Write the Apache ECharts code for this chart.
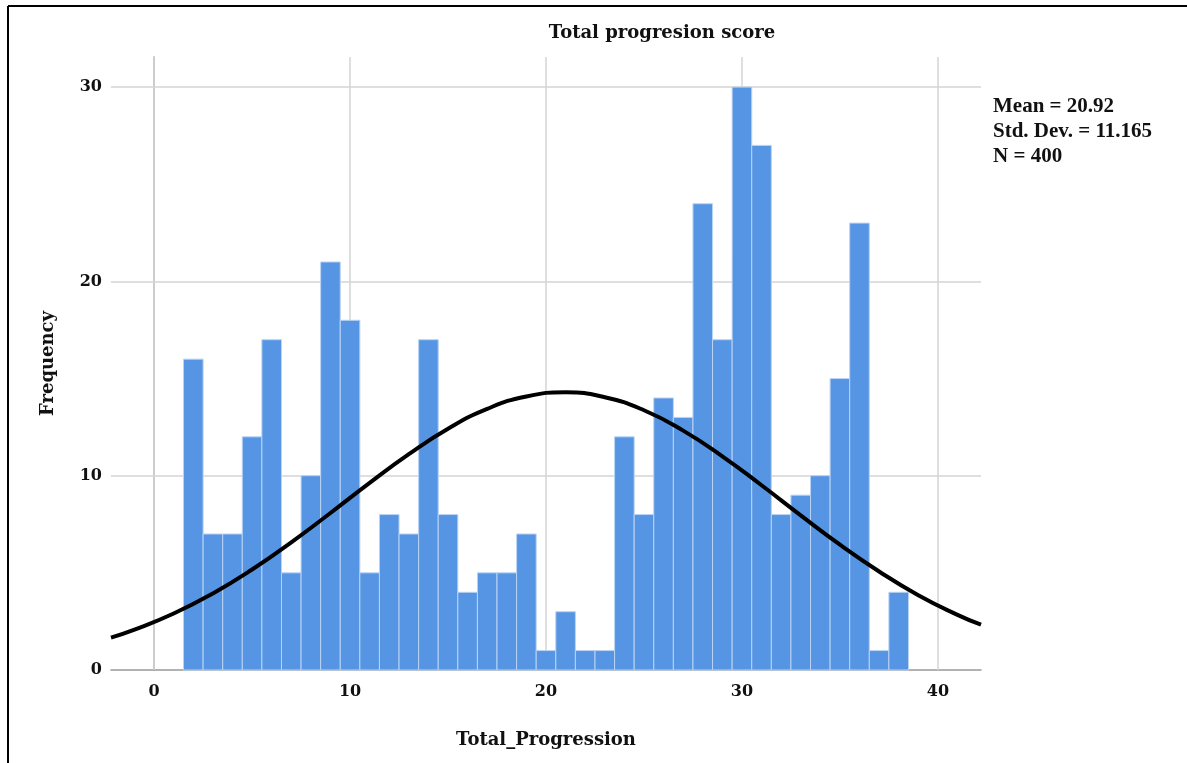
<!DOCTYPE html>
<html>
<head>
<meta charset="utf-8">
<script src="https://cdn.jsdelivr.net/npm/echarts@6/dist/echarts.min.js"></script>
<style>
  html, body { margin: 0; padding: 0; background: #fff; }
  #main { width: 1187px; height: 763px; }
</style>
</head>
<body>
<div id="main"></div>
<script>
  // bin centres (width 1) and their counts
  var binCenters = [2, 3, 4, 5, 6, 7, 8, 9, 10, 11, 12, 13, 14, 15, 16, 17, 18, 19, 20,
    21, 22, 23, 24, 25, 26, 27, 28, 29, 30, 31, 32, 33, 34, 35, 36, 37, 38]
  var counts = [16, 7, 7, 12, 17, 5, 10, 21, 18, 5, 8, 7, 17, 8, 4, 5, 5, 7, 1,
    3, 1, 1, 12, 8, 14, 13, 24, 17, 30, 27, 8, 9, 10, 15, 23, 1, 4]

  // normal curve
  var curveX = [-2.2, -1, 1, 3, 5, 7, 9, 11, 13, 15, 17, 19, 21, 23, 25, 27, 29, 31, 33, 35, 37, 39, 41, 42.2]
  var curveY = [1.67, 2.08, 2.91, 3.94, 5.17, 6.57, 8.08, 9.63, 11.11, 12.42, 13.44, 14.08, 14.29,
    14.04, 13.37, 12.32, 11.0, 9.51, 7.96, 6.45, 5.07, 3.85, 2.84, 2.33]

  var xTicks = [0, 10, 20, 30, 40]
  var yTicks = [0, 10, 20, 30]
  var statsLines = ['Mean = 20.92', 'Std. Dev. = 11.165', 'N = 400']

  var serif = '"DejaVu Serif", serif'
  var times = '"Liberation Serif", serif'
  var gridColor = '#d4d4d4'

  var histData = binCenters.map(function (x, i) { return [x, counts[i]] })
  var curveData = curveX.map(function (x, i) { return [x, curveY[i]] })

  var gridLines = []
  xTicks.forEach(function (v) { gridLines.push({xAxis: v}) })
  yTicks.forEach(function (v) { if (v > 0) gridLines.push({yAxis: v}) })

  var chart = echarts.init(document.getElementById('main'))

  chart.setOption({
    animation: false,
    backgroundColor: '#fff',
    title: {
      text: 'Total progresion score',
      left: 657,
      top: 19,
      textAlign: 'center',
      textStyle: {fontFamily: serif, fontWeight: 'bold', fontSize: 18, color: '#111'}
    },
    graphic: [
      {type: 'line', shape: {x1: 8, y1: 6, x2: 1187, y2: 6}, style: {stroke: '#000', lineWidth: 2}},
      {type: 'line', shape: {x1: 8, y1: 6, x2: 8, y2: 763}, style: {stroke: '#000', lineWidth: 2}},
      {
        type: 'text',
        left: 993,
        top: 94,
        style: {
          text: statsLines.join('\n'),
          font: 'bold 21px ' + times,
          lineHeight: 25,
          fill: '#111'
        }
      }
    ],
    grid: {left: 111, right: 206, top: 57, bottom: 93},
    xAxis: {
      type: 'value',
      min: -2.2,
      max: 42.2,
      name: 'Total_Progression',
      nameLocation: 'middle',
      nameGap: 61,
      nameTextStyle: {fontFamily: serif, fontWeight: 'bold', fontSize: 18, color: '#111'},
      axisLine: {show: true, lineStyle: {color: '#999', width: 1.5}},
      axisTick: {show: false},
      splitLine: {show: false},
      axisLabel: {
        customValues: xTicks,
        margin: 14,
        fontFamily: serif,
        fontWeight: 'bold',
        fontSize: 16,
        color: '#111'
      }
    },
    yAxis: {
      type: 'value',
      min: 0,
      max: 31.55,
      name: 'Frequency',
      nameLocation: 'middle',
      nameRotate: 90,
      nameGap: 54,
      nameTextStyle: {fontFamily: serif, fontWeight: 'bold', fontSize: 18, color: '#111'},
      axisLine: {show: true, lineStyle: {color: '#999', width: 1.5}},
      axisTick: {show: false},
      splitLine: {show: false},
      axisLabel: {
        customValues: yTicks,
        margin: 9,
        fontFamily: serif,
        fontWeight: 'bold',
        fontSize: 16,
        color: '#111'
      }
    },
    series: [
      {
        type: 'line',
        data: [],
        silent: true,
        markLine: {
          silent: true,
          z: 1,
          symbol: 'none',
          label: {show: false},
          lineStyle: {color: gridColor, width: 1.5, type: 'solid'},
          data: gridLines
        }
      },
      {
        type: 'custom',
        z: 3,
        data: histData,
        encode: {x: 0, y: 1},
        renderItem: function (params, api) {
          var x = api.value(0)
          var y = api.value(1)
          var p0 = api.coord([x - 0.5, y])
          var p1 = api.coord([x + 0.5, 0])
          return {
            type: 'rect',
            shape: {x: p0[0], y: p0[1], width: p1[0] - p0[0], height: p1[1] - p0[1]},
            style: {fill: '#5695e3', stroke: '#b9d3f3', lineWidth: 1}
          }
        }
      },
      {
        type: 'line',
        z: 5,
        data: curveData,
        smooth: 0.5,
        showSymbol: false,
        silent: true,
        clip: true,
        lineStyle: {color: '#000', width: 4}
      }
    ]
  })
</script>
</body>
</html>
